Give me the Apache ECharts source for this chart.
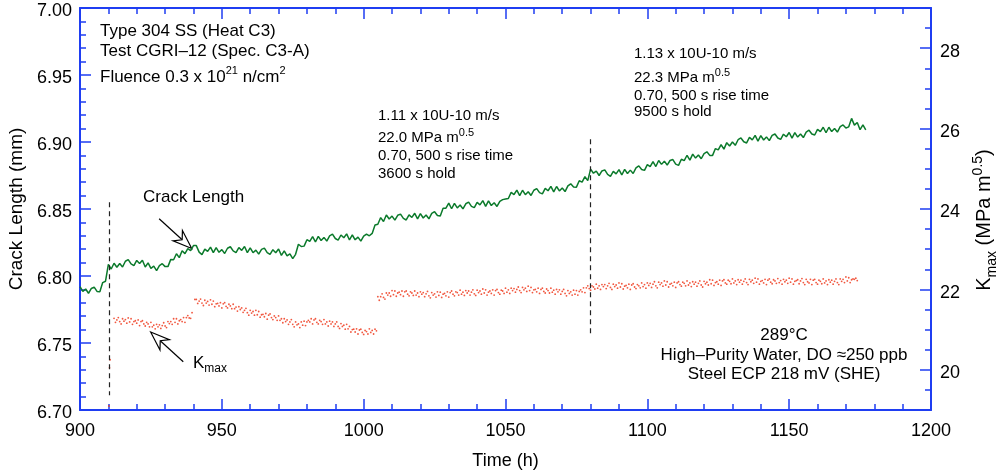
<!DOCTYPE html>
<html>
<head>
<meta charset="utf-8">
<title>Crack length and Kmax vs time</title>
<script src="https://cdn.jsdelivr.net/npm/echarts@6/dist/echarts.min.js"></script>
<style>
  html, body { margin: 0; padding: 0; background: #fff; }
  #main { width: 1005px; height: 476px; }
</style>
</head>
<body>
<div id="main"></div>
<script>
// crack length (mm), hourly readings starting at 900 h
var crackStart = 900, crackStep = 1;
var crackLen = [
  6.7920, 6.7885, 6.7903, 6.7871, 6.7907, 6.7917, 6.7885, 6.7883, 6.7951, 6.7961,
  6.8086, 6.8052, 6.8095, 6.8065, 6.8093, 6.8067, 6.8110, 6.8122, 6.8090, 6.8078,
  6.8116, 6.8094, 6.8118, 6.8067, 6.8098, 6.8057, 6.8073, 6.8040, 6.8077, 6.8092,
  6.8070, 6.8070, 6.8124, 6.8121, 6.8166, 6.8137, 6.8188, 6.8167, 6.8205, 6.8190,
  6.8227, 6.8227, 6.8178, 6.8160, 6.8201, 6.8184, 6.8216, 6.8174, 6.8212, 6.8177,
  6.8197, 6.8168, 6.8207, 6.8218, 6.8187, 6.8175, 6.8212, 6.8191, 6.8220, 6.8174,
  6.8210, 6.8174, 6.8193, 6.8163, 6.8199, 6.8208, 6.8175, 6.8161, 6.8196, 6.8174,
  6.8201, 6.8154, 6.8188, 6.8150, 6.8165, 6.8130, 6.8162, 6.8237, 6.8220, 6.8223,
  6.8271, 6.8258, 6.8294, 6.8254, 6.8296, 6.8265, 6.8288, 6.8261, 6.8300, 6.8312,
  6.8280, 6.8268, 6.8306, 6.8285, 6.8314, 6.8269, 6.8306, 6.8270, 6.8290, 6.8260,
  6.8297, 6.8312, 6.8300, 6.8318, 6.8381, 6.8386, 6.8436, 6.8407, 6.8455, 6.8425,
  6.8447, 6.8417, 6.8453, 6.8462, 6.8430, 6.8418, 6.8456, 6.8437, 6.8468, 6.8426,
  6.8466, 6.8433, 6.8455, 6.8427, 6.8467, 6.8480, 6.8452, 6.8448, 6.8506, 6.8506,
  6.8544, 6.8502, 6.8542, 6.8508, 6.8530, 6.8501, 6.8539, 6.8551, 6.8520, 6.8510,
  6.8549, 6.8531, 6.8562, 6.8520, 6.8560, 6.8526, 6.8547, 6.8519, 6.8557, 6.8570,
  6.8575, 6.8578, 6.8624, 6.8608, 6.8641, 6.8600, 6.8640, 6.8607, 6.8629, 6.8601,
  6.8640, 6.8652, 6.8622, 6.8613, 6.8654, 6.8636, 6.8669, 6.8628, 6.8668, 6.8635,
  6.8657, 6.8630, 6.8672, 6.8688, 6.8665, 6.8663, 6.8711, 6.8701, 6.8741, 6.8712,
  6.8798, 6.8767, 6.8783, 6.8750, 6.8784, 6.8792, 6.8758, 6.8744, 6.8781, 6.8762,
  6.8794, 6.8754, 6.8796, 6.8765, 6.8790, 6.8765, 6.8807, 6.8822, 6.8795, 6.8788,
  6.8831, 6.8816, 6.8854, 6.8817, 6.8862, 6.8833, 6.8857, 6.8828, 6.8862, 6.8869,
  6.8835, 6.8826, 6.8871, 6.8861, 6.8901, 6.8865, 6.8910, 6.8880, 6.8903, 6.8875,
  6.8914, 6.8927, 6.8900, 6.8900, 6.8951, 6.8941, 6.8981, 6.8947, 6.8995, 6.8970,
  6.9000, 6.8975, 6.9017, 6.9030, 6.9002, 6.8993, 6.9034, 6.9016, 6.9049, 6.9007,
  6.9048, 6.9015, 6.9038, 6.9010, 6.9049, 6.9060, 6.9030, 6.9019, 6.9058, 6.9039,
  6.9071, 6.9029, 6.9070, 6.9037, 6.9060, 6.9033, 6.9074, 6.9088, 6.9060, 6.9052,
  6.9094, 6.9077, 6.9110, 6.9069, 6.9110, 6.9078, 6.9101, 6.9074, 6.9114, 6.9127,
  6.9105, 6.9113, 6.9176, 6.9126, 6.9146, 6.9092, 6.9128, 6.9090
];

// Kmax (MPa m^0.5): loading spike near 910 h, then three runs sampled every 0.5 h
var kmaxPulse = [[910.2, 19.10], [910.4, 20.05], [910.6, 20.25]];
var kmaxStep = 0.5;
var kmaxB = { start: 912, values: [
  21.28, 21.18, 21.24, 21.30, 21.20, 21.14, 21.27, 21.21,
  21.25, 21.16, 21.29, 21.19, 21.27, 21.13, 21.20, 21.22,
  21.16, 21.24, 21.10, 21.20, 21.22, 21.14, 21.09, 21.18,
  21.14, 21.07, 21.18, 21.07, 21.11, 21.02, 21.13, 21.07,
  21.12, 21.03, 21.10, 21.17, 21.09, 21.05, 21.20, 21.15,
  21.20, 21.13, 21.27, 21.18, 21.27, 21.14, 21.22, 21.25,
  21.20, 21.30, 21.18, 21.30, 21.35, 21.29, 21.28, 21.42
]};
var kmaxC = { start: 940.5, values: [
  21.75,
  21.75, 21.65, 21.71, 21.76, 21.66, 21.60, 21.73, 21.66,
  21.70, 21.61, 21.74, 21.63, 21.71, 21.57, 21.64, 21.65,
  21.59, 21.67, 21.54, 21.64, 21.67, 21.58, 21.54, 21.63,
  21.59, 21.52, 21.63, 21.52, 21.56, 21.46, 21.57, 21.50,
  21.54, 21.43, 21.48, 21.53, 21.42, 21.36, 21.48, 21.41,
  21.45, 21.36, 21.48, 21.37, 21.45, 21.31, 21.37, 21.38,
  21.32, 21.40, 21.26, 21.36, 21.39, 21.30, 21.25, 21.34,
  21.30, 21.23, 21.34, 21.23, 21.27, 21.17, 21.27, 21.20,
  21.24, 21.13, 21.19, 21.25, 21.13, 21.07, 21.19, 21.12,
  21.14, 21.05, 21.19, 21.11, 21.21, 21.10, 21.19, 21.23,
  21.19, 21.27, 21.14, 21.24, 21.27, 21.18, 21.14, 21.23,
  21.20, 21.13, 21.25, 21.14, 21.19, 21.09, 21.21, 21.14,
  21.19, 21.08, 21.14, 21.19, 21.08, 21.03, 21.15, 21.08,
  21.11, 21.01, 21.13, 21.02, 21.08, 20.94, 21.00, 21.01,
  20.94, 21.02, 20.89, 20.99, 21.01, 20.93, 20.88, 20.98,
  20.95, 20.89, 21.02, 20.93, 20.98, 20.89, 21.01, 20.97
]};
var kmaxD = { start: 1005, values: [
  21.82, 21.73, 21.82, 21.89, 21.80, 21.76, 21.91, 21.86, 21.91, 21.83, 21.97, 21.87, 21.96, 21.83, 21.91, 21.93,
  21.87, 21.96, 21.83, 21.94, 21.96, 21.88, 21.84, 21.94, 21.91, 21.85, 21.96, 21.86, 21.91, 21.82, 21.94, 21.88,
  21.92, 21.82, 21.89, 21.95, 21.84, 21.79, 21.92, 21.86, 21.89, 21.81, 21.94, 21.85, 21.93, 21.80, 21.88, 21.90,
  21.84, 21.94, 21.81, 21.92, 21.96, 21.88, 21.84, 21.94, 21.92, 21.86, 21.98, 21.88, 21.93, 21.85, 21.97, 21.91,
  21.96, 21.86, 21.93, 21.99, 21.89, 21.85, 21.98, 21.92, 21.96, 21.88, 22.01, 21.91, 21.99, 21.86, 21.93, 21.96,
  21.90, 21.99, 21.86, 21.97, 22.00, 21.92, 21.88, 21.98, 21.96, 21.90, 22.03, 21.93, 21.99, 21.90, 22.03, 21.97,
  22.02, 21.93, 22.00, 22.06, 21.97, 21.92, 22.05, 21.99, 22.03, 21.95, 22.08, 21.97, 22.05, 21.92, 21.99, 22.00,
  21.94, 22.03, 21.90, 22.00, 22.03, 21.95, 21.91, 22.01, 21.97, 21.91, 22.03, 21.93, 21.98, 21.88, 22.00, 21.94,
  21.99, 21.88, 21.95, 22.00, 21.90, 21.84, 21.97, 21.90, 21.94, 21.86, 21.98, 21.88, 21.97, 21.86, 21.95, 21.99,
  21.94, 22.04, 21.92, 22.04, 22.09, 22.02, 21.98, 22.09, 22.06, 22.01, 22.13, 22.03, 22.09, 22.00, 22.12, 22.07,
  22.12, 22.02, 22.09, 22.15, 22.05, 22.00, 22.13, 22.07, 22.11, 22.03, 22.16, 22.06, 22.14, 22.01, 22.08, 22.10,
  22.04, 22.13, 22.00, 22.11, 22.14, 22.06, 22.02, 22.12, 22.09, 22.04, 22.16, 22.07, 22.12, 22.03, 22.16, 22.10,
  22.15, 22.05, 22.13, 22.19, 22.09, 22.04, 22.18, 22.12, 22.16, 22.08, 22.21, 22.11, 22.19, 22.06, 22.13, 22.15,
  22.09, 22.18, 22.05, 22.16, 22.19, 22.12, 22.08, 22.18, 22.15, 22.09, 22.21, 22.11, 22.16, 22.07, 22.19, 22.13,
  22.18, 22.08, 22.15, 22.21, 22.11, 22.06, 22.20, 22.14, 22.18, 22.11, 22.24, 22.14, 22.23, 22.10, 22.17, 22.19,
  22.13, 22.23, 22.10, 22.21, 22.24, 22.16, 22.13, 22.23, 22.20, 22.14, 22.26, 22.16, 22.21, 22.12, 22.24, 22.18,
  22.23, 22.13, 22.20, 22.26, 22.17, 22.12, 22.25, 22.19, 22.23, 22.15, 22.28, 22.18, 22.26, 22.13, 22.20, 22.22,
  22.16, 22.25, 22.12, 22.23, 22.26, 22.18, 22.14, 22.24, 22.21, 22.15, 22.27, 22.17, 22.22, 22.13, 22.25, 22.19,
  22.23, 22.15, 22.28, 22.18, 22.26, 22.13, 22.20, 22.22, 22.24, 22.14, 22.21, 22.27, 22.17, 22.12, 22.25, 22.19,
  22.16, 22.25, 22.12, 22.23, 22.25, 22.17, 22.13, 22.23, 22.20, 22.14, 22.26, 22.16, 22.21, 22.12, 22.24, 22.18,
  22.23, 22.13, 22.20, 22.26, 22.17, 22.12, 22.26, 22.20, 22.25, 22.17, 22.31, 22.21, 22.29, 22.17, 22.24, 22.26,
  22.25, 22.28, 22.22
]};

// load-change markers (time, crack length from, crack length to)
var loadChanges = [[910.4, 6.855, 6.711], [1080, 6.902, 6.755]];
// callout arrows in data coordinates
var crackArrow = { tail: [927.9, 6.8427], tip: [939.4, 6.8205] };
var kmaxArrow = { tail: [936.4, 20.20], tip: [924.9, 20.94] };

var xTicks = { min: 900, max: 1200, step: 50 };
var kTickLabels = [20, 22, 24, 26, 28];

var FONT = '"Liberation Sans", Arial, Helvetica, sans-serif';
var BLUE = '#1f3ef2';

var chart = echarts.init(document.getElementById('main'));

function run(seg) {
  return seg.values.map(function (v, i) { return [seg.start + i * kmaxStep, v]; });
}
var kmaxData = kmaxPulse.concat(run(kmaxB), run(kmaxC), run(kmaxD));
var crackData = crackLen.map(function (v, i) { return [crackStart + i * crackStep, v]; });

var tickStyle = { color: BLUE, width: 1.5 };
var lbl = { color: '#000', fontFamily: FONT, fontSize: 18 };
// y labels sit a few pixels below their ticks in the original
var yLbl = Object.assign({ verticalAlign: 'top', lineHeight: 7 }, lbl);

chart.setOption({
  animation: false,
  grid: { left: 80, right: 74, top: 8, bottom: 66, containLabel: false, outerBoundsMode: 'none' },
  xAxis: [{
    type: 'value', position: 'bottom', min: xTicks.min, max: xTicks.max, interval: xTicks.step,
    name: 'Time (h)', nameLocation: 'middle', nameGap: 42,
    nameTextStyle: { color: '#000', fontFamily: FONT, fontSize: 18 },
    axisLine: { lineStyle: { color: BLUE, width: 2 } },
    axisTick: { inside: true, length: 11, lineStyle: tickStyle },
    minorTick: { show: true, splitNumber: 5, length: 6, lineStyle: tickStyle },
    axisLabel: Object.assign({ margin: 12, formatter: function (v) { return String(v); } }, lbl),
    splitLine: { show: false }
  }, {
    type: 'value', position: 'top', min: xTicks.min, max: xTicks.max, interval: xTicks.step,
    axisLine: { lineStyle: { color: BLUE, width: 2 } },
    axisTick: { inside: true, length: 11, lineStyle: tickStyle },
    minorTick: { show: true, splitNumber: 5, length: 6, lineStyle: tickStyle },
    axisLabel: { show: false },
    splitLine: { show: false }
  }],
  yAxis: [{
    type: 'value', position: 'left', min: 6.70, max: 7.00, interval: 0.05,
    name: 'Crack Length (mm)', nameLocation: 'middle', nameGap: 51, nameRotate: 90,
    nameTextStyle: { color: '#000', fontFamily: FONT, fontSize: 19 },
    axisLine: { lineStyle: { color: BLUE, width: 2 } },
    axisTick: { inside: true, length: 11, lineStyle: tickStyle },
    minorTick: { show: true, splitNumber: 5, length: 6, lineStyle: tickStyle },
    axisLabel: Object.assign({ margin: 8, formatter: function (v) { return v.toFixed(2); } }, yLbl),
    splitLine: { show: false }
  }, {
    type: 'value', position: 'right', min: 19, max: 29, interval: 0.5,
    axisLine: { lineStyle: { color: BLUE, width: 2 } },
    axisTick: { inside: true, length: 6, lineStyle: tickStyle },
    axisLabel: { show: false },
    splitLine: { show: false }
  }, {
    type: 'value', position: 'right', min: 19, max: 29,
    name: '{n|K}{sub|max}{n| (MPa m}{sup|0.5}{n|)}', nameLocation: 'middle', nameGap: 31, nameRotate: 90,
    nameTextStyle: {
      color: '#000', fontFamily: FONT, fontSize: 20, padding: [0, 22, 0, 0],
      rich: {
        n: { fontFamily: FONT, fontSize: 20, lineHeight: 28, color: '#000' },
        sub: { fontFamily: FONT, fontSize: 14, lineHeight: 14, verticalAlign: 'bottom', color: '#000' },
        sup: { fontFamily: FONT, fontSize: 14, lineHeight: 14, verticalAlign: 'top', color: '#000' }
      }
    },
    axisLine: { show: false },
    axisTick: { inside: true, length: 11, customValues: kTickLabels, lineStyle: tickStyle },
    axisLabel: Object.assign({ margin: 9, customValues: kTickLabels }, yLbl),
    splitLine: { show: false }
  }],
  series: [{
    name: 'Crack Length', type: 'line', xAxisIndex: 0, yAxisIndex: 0,
    data: crackData, showSymbol: false, silent: true,
    lineStyle: { color: '#0b7a2b', width: 1.5 },
    markLine: {
      silent: true, symbol: 'none', label: { show: false },
      lineStyle: { color: '#222', width: 1.2, type: [5, 4] },
      data: loadChanges.map(function (d) { return [{ coord: [d[0], d[1]] }, { coord: [d[0], d[2]] }]; })
    }
  }, {
    name: 'Kmax', type: 'scatter', xAxisIndex: 0, yAxisIndex: 1,
    data: kmaxData, symbol: 'circle', symbolSize: 1.8, silent: true,
    itemStyle: { color: '#ef3b1f', opacity: 0.85 }
  }]
});

// annotations
var rich = {
  n17: { fontFamily: FONT, fontSize: 17, lineHeight: 24, color: '#000' },
  n15: { fontFamily: FONT, fontSize: 15, lineHeight: 22, color: '#000' },
  sup: { fontFamily: FONT, fontSize: 11, lineHeight: 11, verticalAlign: 'top', color: '#000' },
  sub: { fontFamily: FONT, fontSize: 12, lineHeight: 12, verticalAlign: 'bottom', color: '#000' }
};
function txt(x, y, text, align) {
  return {
    type: 'text', x: x, y: y, silent: true,
    style: { text: text, rich: rich, align: align || 'left', verticalAlign: 'middle', fill: '#000' }
  };
}
var g = [
  txt(100, 31, '{n17|Type 304 SS (Heat C3)}'),
  txt(100, 51, '{n17|Test CGRI\u201312 (Spec. C3-A)}'),
  txt(100, 77, '{n17|Fluence 0.3 x 10}{sup|21}{n17| n/cm}{sup|2}'),

  txt(378, 116, '{n15|1.11 x 10U-10 m/s}'),
  txt(378, 138, '{n15|22.0 MPa m}{sup|0.5}'),
  txt(378, 156, '{n15|0.70, 500 s rise time}'),
  txt(378, 174, '{n15|3600 s hold}'),

  txt(634, 54, '{n15|1.13 x 10U-10 m/s}'),
  txt(634, 78, '{n15|22.3 MPa m}{sup|0.5}'),
  txt(634, 96, '{n15|0.70, 500 s rise time}'),
  txt(634, 112, '{n15|9500 s hold}'),

  txt(784, 335, '{n17|289\u00B0C}', 'center'),
  txt(784, 355, '{n17|High\u2013Purity Water, DO \u2248250 ppb}', 'center'),
  txt(784, 374, '{n17|Steel ECP 218 mV (SHE)}', 'center'),

  txt(143, 197, '{n17|Crack Length}'),
  txt(193, 363, '{n17|K}{sub|max}')
];

function arrow(tail, tip) {
  var dx = tip[0] - tail[0], dy = tip[1] - tail[1];
  var len = Math.sqrt(dx * dx + dy * dy);
  var ux = dx / len, uy = dy / len, nx = -uy, ny = ux;
  var L = 19, W = 7, N = 13;
  var b1 = [tip[0] - L * ux + W * nx, tip[1] - L * uy + W * ny];
  var b2 = [tip[0] - L * ux - W * nx, tip[1] - L * uy - W * ny];
  var notch = [tip[0] - N * ux, tip[1] - N * uy];
  return [{
    type: 'line', silent: true,
    shape: { x1: tail[0], y1: tail[1], x2: notch[0], y2: notch[1] },
    style: { stroke: '#000', lineWidth: 1.2 }
  }, {
    type: 'polygon', silent: true,
    shape: { points: [tip, b1, notch, b2] },
    style: { fill: '#fff', stroke: '#000', lineWidth: 1.2 }
  }];
}
var cA = { xAxisIndex: 0, yAxisIndex: 0 };
var kA = { xAxisIndex: 0, yAxisIndex: 1 };
g = g.concat(
  arrow(chart.convertToPixel(cA, crackArrow.tail), chart.convertToPixel(cA, crackArrow.tip)),
  arrow(chart.convertToPixel(kA, kmaxArrow.tail), chart.convertToPixel(kA, kmaxArrow.tip))
);
chart.setOption({ graphic: g });
</script>
</body>
</html>
